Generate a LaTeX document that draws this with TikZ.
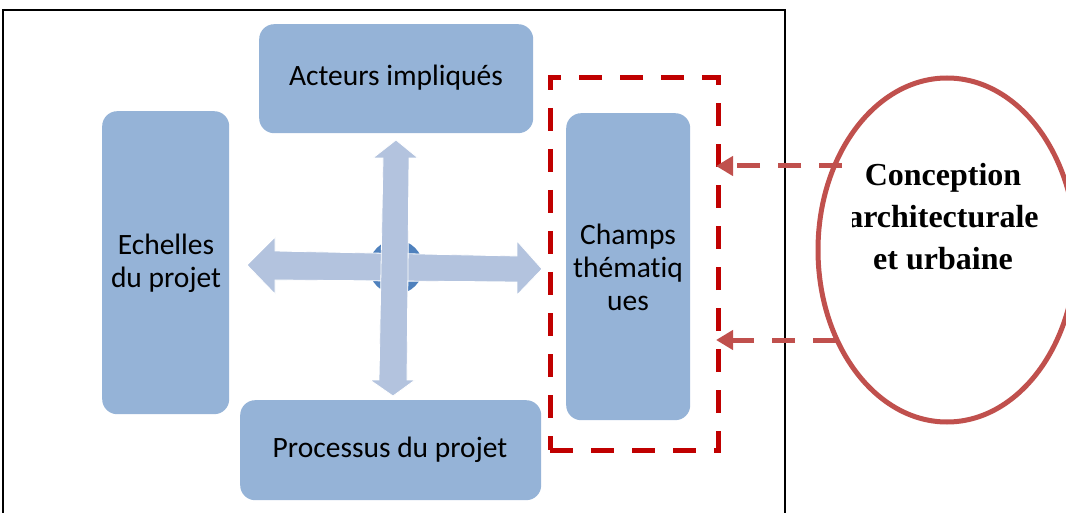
\documentclass[tikz,border=0pt]{standalone}
\usepackage{fontspec}
\setmainfont[Ligatures=NoCommon]{Carlito}
\newfontfamily\serifbold[BoldFont={Liberation Serif Bold}]{Liberation Serif}
\usetikzlibrary{arrows.meta,shapes.geometric}
\definecolor{boxblue}{HTML}{95B3D7}
\definecolor{arrowblue}{HTML}{B3C3DE}
\definecolor{hubblue}{HTML}{4F81BD}
\definecolor{darkred}{HTML}{C00000}
\definecolor{softred}{HTML}{C0504D}
\tikzset{
  theme/.style={fill=boxblue, draw=none, rounded corners=15pt, inner sep=0pt},
  label/.style={font=\fontsize{29.5}{33}\selectfont, align=center, inner sep=0pt},
  crossarrow/.style={fill=arrowblue, draw=white, line width=0.8pt},
  feedback/.style={draw=softred, line width=5pt, dash pattern=on 23pt off 18pt, -{Triangle[length=17pt,width=19pt]}},
}
\begin{document}
\begin{tikzpicture}[x=1pt,y=-1pt]
\useasboundingbox (0,0) rectangle (1066,513);
% outer frame (open at the bottom)
\draw[line width=2pt] (3,520) -- (3,10) -- (785,10) -- (785,520);

% thematic boxes
\node[theme, minimum width=274pt, minimum height=109pt, anchor=north west] (acteurs) at (259,24) {};
\node[label] at (396,78) {Acteurs impliqués};
\node[theme, minimum width=127pt, minimum height=303pt, anchor=north west] (echelles) at (102,111) {};
\node[label] at (166,263) {Echelles\\du projet};
\node[theme, minimum width=301pt, minimum height=100pt, anchor=north west] (processus) at (240,400) {};
\node[label] at (390,450) {Processus du projet};
\node[theme, minimum width=124pt, minimum height=307pt, anchor=north west] (champs) at (566,113) {};
\node[label] at (628,267) {Champs\\thématiq\\ues};

% central hub and four-way arrows
\node[circle, fill=hubblue, minimum size=54pt, inner sep=0pt] (hub) at (396,267) {};
\fill[crossarrow] (247,265) -- (275,237) -- (275,251) -- (517,256) -- (517,241) -- (542,269)
  -- (517,295) -- (517,282) -- (275,280) -- (275,294) -- cycle;
\fill[crossarrow] (396,140) -- (418,158) -- (409,158) -- (407,380) -- (415,380) -- (393,396)
  -- (370,380) -- (379,380) -- (383,158) -- (373,158) -- cycle;

% dashed frame around the thematic fields
\node[draw=darkred, line width=5pt, dash pattern=on 23pt off 18pt, minimum width=168pt, minimum height=372pt, anchor=north west, inner sep=0pt, outer sep=0pt] (zone) at (550,78) {};

% design ellipse
\node[draw=softred, line width=5pt, ellipse, minimum width=258pt, minimum height=344pt, inner sep=0pt] (design) at (947,250) {};
\begin{scope}
  \clip (852,120) rectangle (1066,300);
  \node at (943,217) [font=\serifbold\bfseries\fontsize{32}{42}\selectfont, align=center] {Conception\\architecturale\\et urbaine};
\end{scope}

% feedback arrows
\coordinate (f1) at (842,166);
\coordinate (f2) at (836,340);
\draw[feedback] (f1) -- ([xshift=-2pt]zone.east |- f1);
\draw[feedback] (f2) -- ([xshift=-2pt]zone.east |- f2);
\end{tikzpicture}
\end{document}
